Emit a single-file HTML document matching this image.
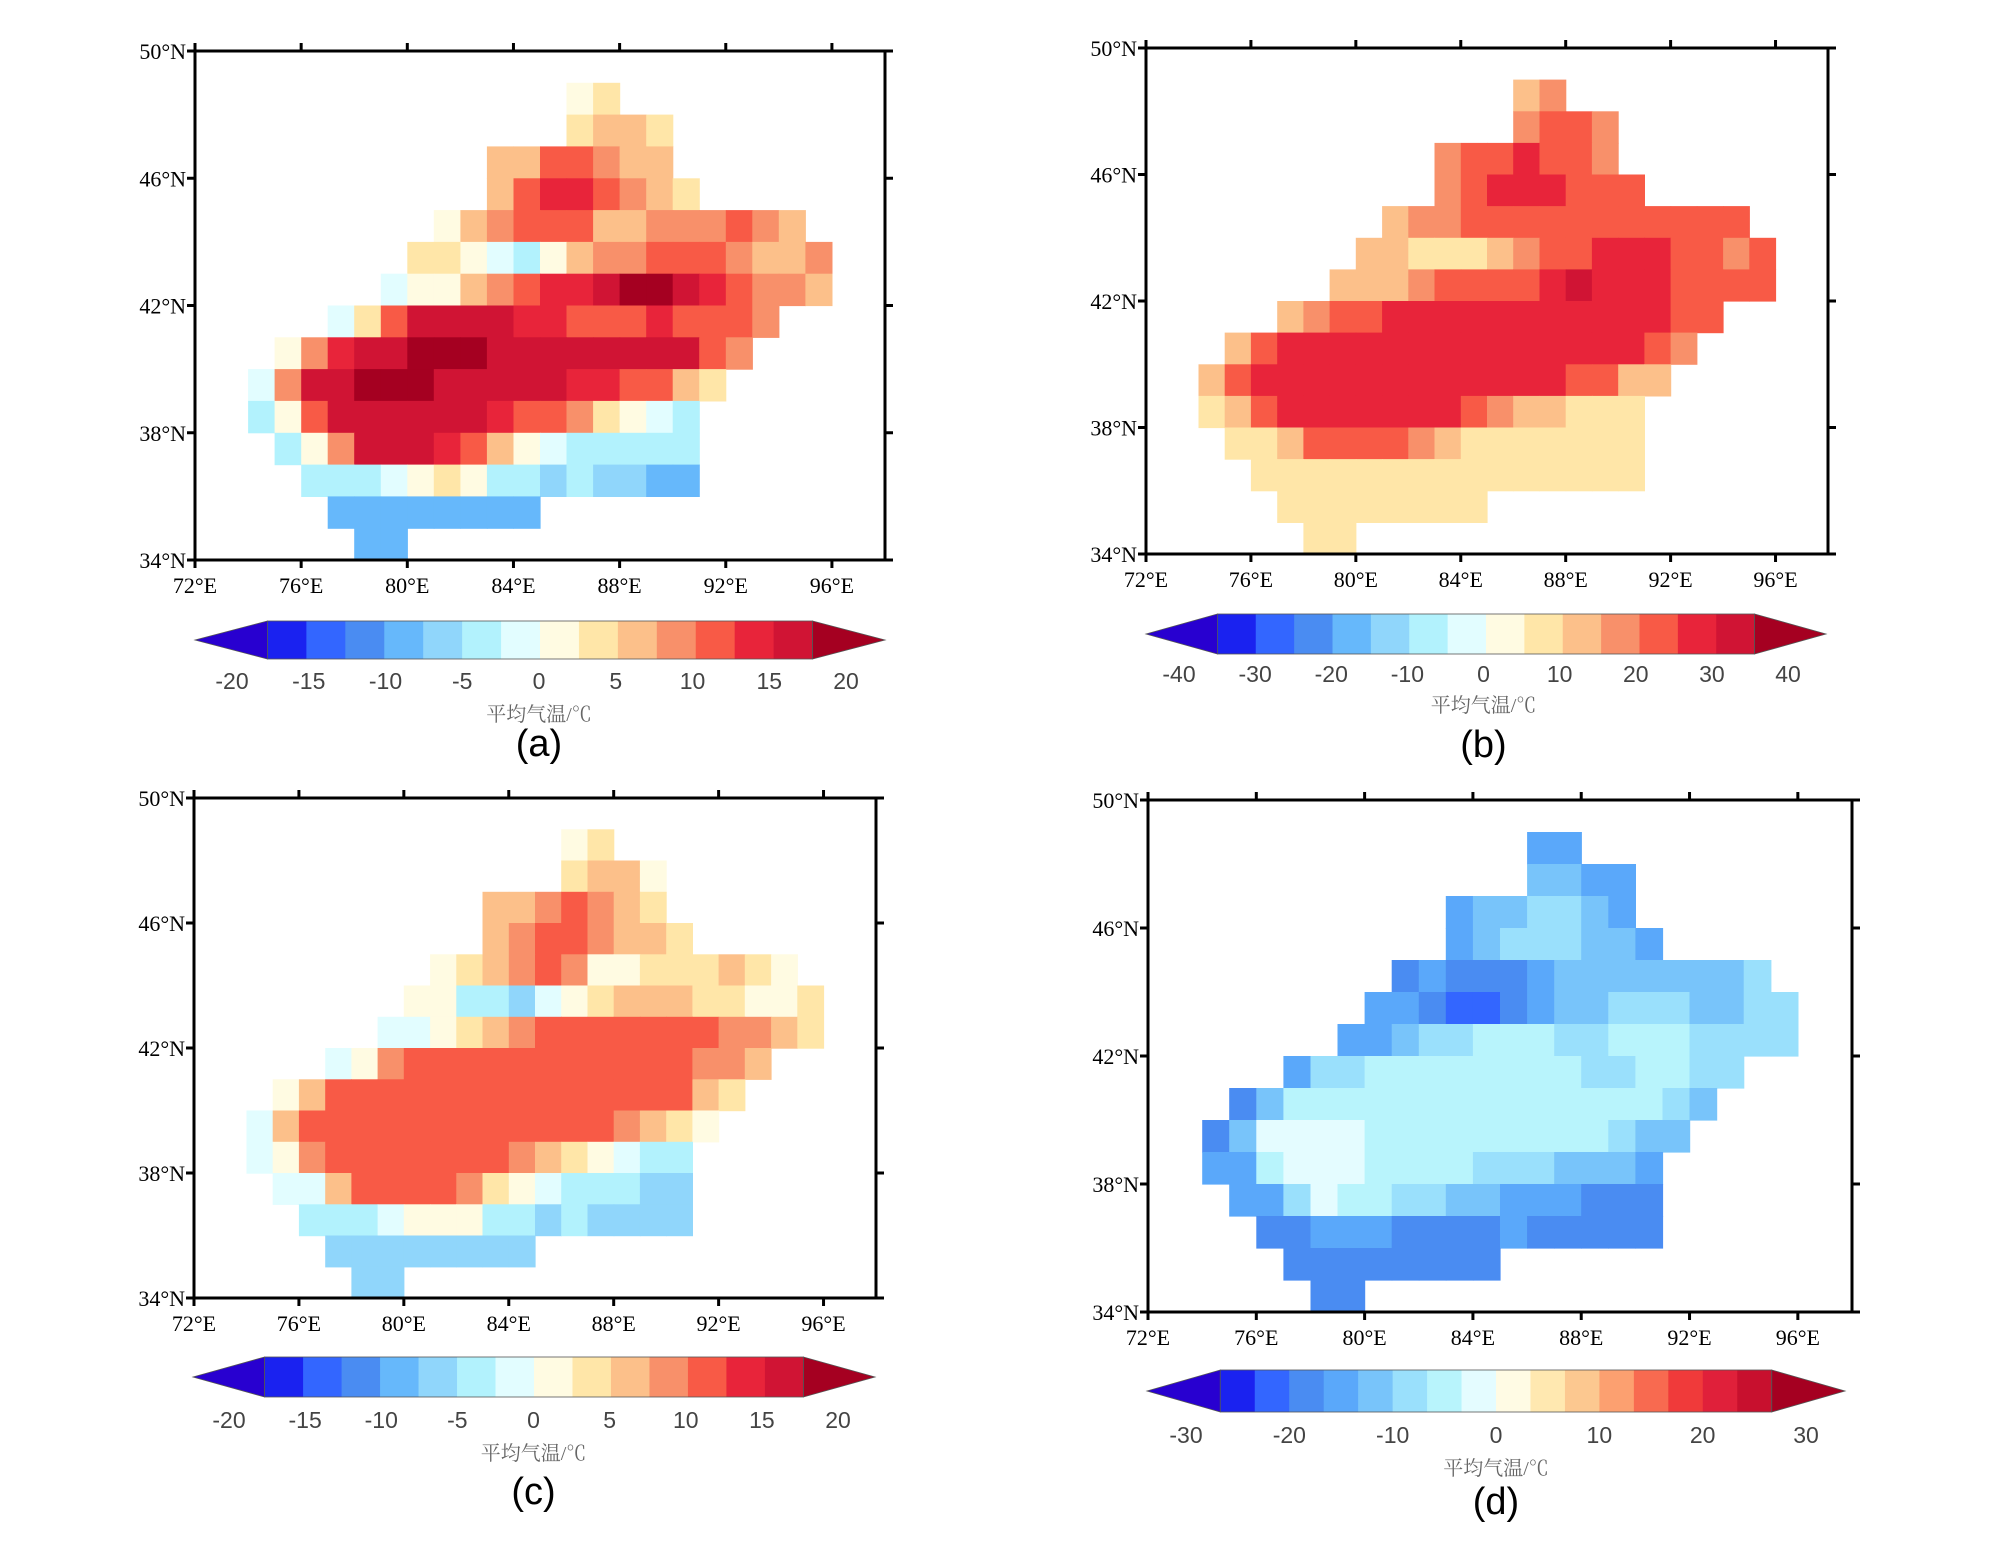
<!DOCTYPE html>
<html><head><meta charset="utf-8">
<style>
html,body{margin:0;padding:0;background:#fff;width:2000px;height:1548px;overflow:hidden}
svg{position:absolute;left:0;top:0}
.tk{font-family:"Liberation Serif",serif;font-size:22px;fill:#000}
.cb{font-family:"Liberation Sans",sans-serif;font-size:23px;fill:#444}
.un{font-family:"Liberation Serif","Noto Serif CJK SC",serif;font-size:20px;fill:#666}
.pl{font-family:"Liberation Sans",sans-serif;font-size:38px;fill:#000}
</style></head>
<body>
<svg id="fig" width="2000" height="1548"></svg>
<script>
// ---- shared grid mask: [lat row, first lon] (cells 1°x1°) ----
const rowLats = [48,47,46,45,44,43,42,41,40,39,38,37,36,35,34];
const rowStartLon = [86,86,83,83,81,80,79,77,75,74,74,75,76,77,78];
// ---- panel (a) values ----
const valuesA = [
 [2,4],[4,7,6,3],[6,7,11,12,8,7,5],[6,11,13,13,12,8,6,4],
 [2,5,8,10,12,12,7,6,8,8,8,10,9,6],
 [4,3,1,-2,-3,1,6,8,9,10,10,10,9,7,5,8],
 [-2,0,1,5,8,10,13,14,17,18,18,17,14,10,8,8,6],
 [-1,3,10,15,16,17,16,14,13,12,12,12,13,12,11,10,9],
 [2,8,14,17,17,18,18,18,17,16,16,15,15,16,17,16,12,8],
 [-2,8,15,17,18,18,18,17,17,16,15,15,14,13,12,10,6,4],
 [-3,2,12,17,17,17,17,16,15,14,12,10,8,4,0,-2,-3],
 [-3,0,8,15,16,15,13,10,6,2,-2,-3,-3,-4,-4,-5],
 [-5,-5,-4,-2,2,3,0,-3,-5,-6,-5,-6,-6,-8,-8],
 [-8,-8,-9,-9,-9,-8,-8,-8],[-9,-9]];
// ---- panel (b) values ----
const valuesB = [
 [14,17],[18,21,20,17],[18,22,24,25,23,21,18],[18,22,26,26,25,22,22,20],
 [14,16,18,20,22,24,22,20,22,22,24,24,22,20],
 [14,12,8,7,7,10,18,22,24,26,26,26,24,22,18,20],
 [10,12,14,18,20,22,22,24,27,31,28,27,26,24,22,22,20],
 [12,16,22,24,25,26,25,25,25,25,25,25,26,26,25,24,22],
 [14,20,25,27,27,27,27,27,27,27,27,27,27,27,26,25,22,18],
 [10,20,25,27,27,27,27,27,27,27,27,27,26,25,24,22,14,10],
 [8,12,22,26,27,27,27,27,26,25,22,18,14,10,8,8,7],
 [8,9,14,22,24,22,20,16,12,9,7,7,7,7,6,6],
 [7,6,6,6,8,9,8,7,6,6,6,6,6,6,6],
 [6,6,6,6,6,6,6,6],[6,6]];
// ---- panel (c) values ----
const valuesC = [
 [2,4],[4,6,6,2],[6,7,9,10,8,6,4],[5,9,11,11,9,7,5,3],
 [0,4,6,8,10,8,2,1,4,3,3,5,4,2],
 [2,0,-3,-5,-6,-2,2,4,6,6,5,4,3,2,1,3],
 [-2,-1,0,3,5,8,10,10,12,12,12,11,10,9,8,6,4],
 [-1,2,8,11,11,12,11,10,10,10,10,11,11,10,9,8,6],
 [1,6,11,12,12,12,12,12,12,12,11,11,11,11,11,10,7,4],
 [-1,6,11,12,12,12,12,12,12,12,12,12,11,10,9,7,4,2],
 [-2,0,8,11,12,12,12,12,11,10,8,6,3,0,-2,-3,-3],
 [-2,-1,5,10,11,11,10,8,4,1,-2,-3,-4,-5,-6,-6],
 [-4,-4,-3,-1,1,2,0,-3,-5,-6,-5,-6,-6,-7,-7],
 [-6,-6,-7,-7,-6,-6,-6,-6],[-7,-7]];
// ---- panel (d) values ----
const valuesD = [
 [-14,-14],[-12,-11,-14,-16],[-15,-13,-11,-9,-9,-12,-15],[-14,-12,-10,-8,-8,-11,-12,-14],
 [-17,-15,-18,-20,-17,-14,-12,-11,-12,-12,-13,-12,-11,-10],
 [-14,-15,-18,-21,-23,-20,-16,-13,-12,-10,-10,-9,-11,-12,-10,-9],
 [-16,-14,-12,-10,-8,-6,-5,-6,-8,-7,-6,-5,-6,-7,-8,-9,-9],
 [-14,-10,-7,-6,-5,-5,-4,-4,-4,-5,-6,-7,-7,-6,-6,-8,-9],
 [-17,-12,-6,-4,-4,-4,-4,-4,-4,-4,-4,-4,-4,-5,-4,-5,-8,-11],
 [-17,-12,-3,-2,-2,-3,-4,-4,-4,-4,-4,-4,-5,-5,-6,-8,-11,-13],
 [-16,-14,-4,-1,-1,-2,-4,-4,-5,-6,-7,-8,-10,-12,-13,-13,-14],
 [-16,-15,-8,-3,-5,-5,-7,-9,-11,-13,-15,-16,-16,-17,-18,-18],
 [-17,-17,-16,-15,-16,-17,-17,-17,-17,-16,-18,-19,-19,-20,-20],
 [-18,-19,-19,-18,-18,-18,-18,-18],[-20,-20]];
// ---- axis ticks & colorbar labels ----
const lonTicks = [72,76,80,84,88,92,96];
const latTicks = [34,38,42,46,50];
const cbLabelsAC = [-20,-15,-10,-5,0,5,10,15,20];
const cbLabelsB = [-40,-30,-20,-10,0,10,20,30,40];
const cbLabelsD = [-30,-20,-10,0,10,20,30];

const pal16 = ['#2800d0','#1a22f0','#3366ff','#4a8cf2','#66b8fb','#90d6fb','#b2f2fd','#e2fdff','#fffbe2','#ffe6a8','#fcc08a','#f8906a','#f85a46','#e8243a','#d01434','#a50021'];
const pal18 = ['#2800d0','#1a22f0','#3366ff','#4a8cf2','#5aa8fa','#78c4fa','#9ae0fc','#b8f4fc','#e4fcff','#fffbe4','#ffe8b0','#fcc890','#fca070','#f86a50','#f03a3a','#e0203a','#c8102e','#a50021'];

const panels = [
 {id:'a',vals:valuesA,L:195,R:885,T:51,B:560,lo:-17.5,hi:17.5,pal:pal16,cb:[195,885,621,659],labs:cbLabelsAC,lx:[232,846],ly:681,uy:714,py:744},
 {id:'b',vals:valuesB,L:1146,R:1828,T:48,B:554,lo:-35,hi:35,pal:pal16,cb:[1146,1826,614,654],labs:cbLabelsB,lx:[1179,1788],ly:674,uy:705,py:745},
 {id:'c',vals:valuesC,L:194,R:876,T:798,B:1298,lo:-17.5,hi:17.5,pal:pal16,cb:[193,875,1357,1397],labs:cbLabelsAC,lx:[229,838],ly:1420,uy:1453,py:1492},
 {id:'d',vals:valuesD,L:1148,R:1852,T:800,B:1312,lo:-80/3,hi:80/3,pal:pal18,cb:[1147,1845,1370,1412],labs:cbLabelsD,lx:[1186,1806],ly:1435,uy:1468,py:1502}
];
const NS='http://www.w3.org/2000/svg';
const svg=document.getElementById('fig');
function mk(tag,attrs,parent,txt){const e=document.createElementNS(NS,tag);for(const k in attrs)e.setAttribute(k,attrs[k]);if(txt!==undefined)e.textContent=txt;(parent||svg).appendChild(e);return e;}

panels.forEach(p=>{
  const g=mk('g',{});
  
  
  const xs=lon=>p.L+(lon-72)/(98-72)*(p.R-p.L);
  const ys=lat=>p.B-(lat-34)/(50-34)*(p.B-p.T);
  const n=p.pal.length-2, step=(p.hi-p.lo)/n;
  const col=v=>{if(v<p.lo)return p.pal[0];if(v>=p.hi)return p.pal[p.pal.length-1];return p.pal[1+Math.floor((v-p.lo)/step)];};
  const field=mk('g',{},g);
  
  
  rowLats.forEach((lat,i)=>{
    p.vals[i].forEach((v,j)=>{
      const lon=rowStartLon[i]+j;
      const x0=xs(lon),x1=xs(lon+1),y0=ys(lat+1),y1=ys(lat);
      const r=mk('rect',{x:x0.toFixed(1),y:y0.toFixed(1),width:(x1-x0+0.6).toFixed(1),height:(y1-y0+0.6).toFixed(1),fill:col(v)},field);
      
      
    });
  });
  const fr=mk('rect',{x:p.L,y:p.T,width:p.R-p.L,height:p.B-p.T,fill:'none',stroke:'#000','stroke-width':3},g);
  
  
  lonTicks.forEach(lon=>{
    const x=xs(lon);
    mk('line',{x1:x,x2:x,y1:p.B,y2:p.B+8,stroke:'#000','stroke-width':3},g);
    mk('line',{x1:x,x2:x,y1:p.T,y2:p.T-8,stroke:'#000','stroke-width':3},g);
    const t=mk('text',{x:x,y:p.B+33,'text-anchor':'middle',class:'tk'},g,lon+'°E');
    
    
  });
  latTicks.forEach(lat=>{
    const y=ys(lat);
    mk('line',{x1:p.L-8,x2:p.L,y1:y,y2:y,stroke:'#000','stroke-width':3},g);
    mk('line',{x1:p.R,x2:p.R+8,y1:y,y2:y,stroke:'#000','stroke-width':3},g);
    const t=mk('text',{x:p.L-9,y:y+8,'text-anchor':'end',class:'tk'},g,lat+'°N');
    
    
  });
  const [cx0,cx1,cy0,cy1]=p.cb, W=cx1-cx0, aw=W*0.105, bw=(W-2*aw)/n, cm=(cy0+cy1)/2;
  const cbg=mk('g',{},g);
  
  
  mk('polygon',{points:`${cx0},${cm} ${cx0+aw},${cy0} ${cx0+aw},${cy1}`,fill:p.pal[0],stroke:'#555','stroke-width':0.8},cbg);
  for(let k=0;k<n;k++) mk('rect',{x:cx0+aw+k*bw,y:cy0,width:bw+0.5,height:cy1-cy0,fill:p.pal[k+1]},cbg);
  mk('polygon',{points:`${cx1},${cm} ${cx1-aw},${cy0} ${cx1-aw},${cy1}`,fill:p.pal[p.pal.length-1],stroke:'#555','stroke-width':0.8},cbg);
  mk('rect',{x:cx0+aw,y:cy0,width:W-2*aw,height:cy1-cy0,fill:'none',stroke:'#555','stroke-width':0.8},cbg);
  p.labs.forEach((v,k)=>{
    const x=p.lx[0]+(p.lx[1]-p.lx[0])*k/(p.labs.length-1);
    const t=mk('text',{x:x,y:p.ly+8,'text-anchor':'middle',class:'cb'},cbg,String(v));
    
    
  });
  const mid=(p.lx[0]+p.lx[1])/2;
  const u=mk('text',{x:mid,y:p.uy+7,'text-anchor':'middle',class:'un'},g,'平均气温/℃');
  
  
  const pl=mk('text',{x:mid,y:p.py+12,'text-anchor':'middle',class:'pl'},g,'('+p.id+')');
  
  
});
</script>
</body></html>
